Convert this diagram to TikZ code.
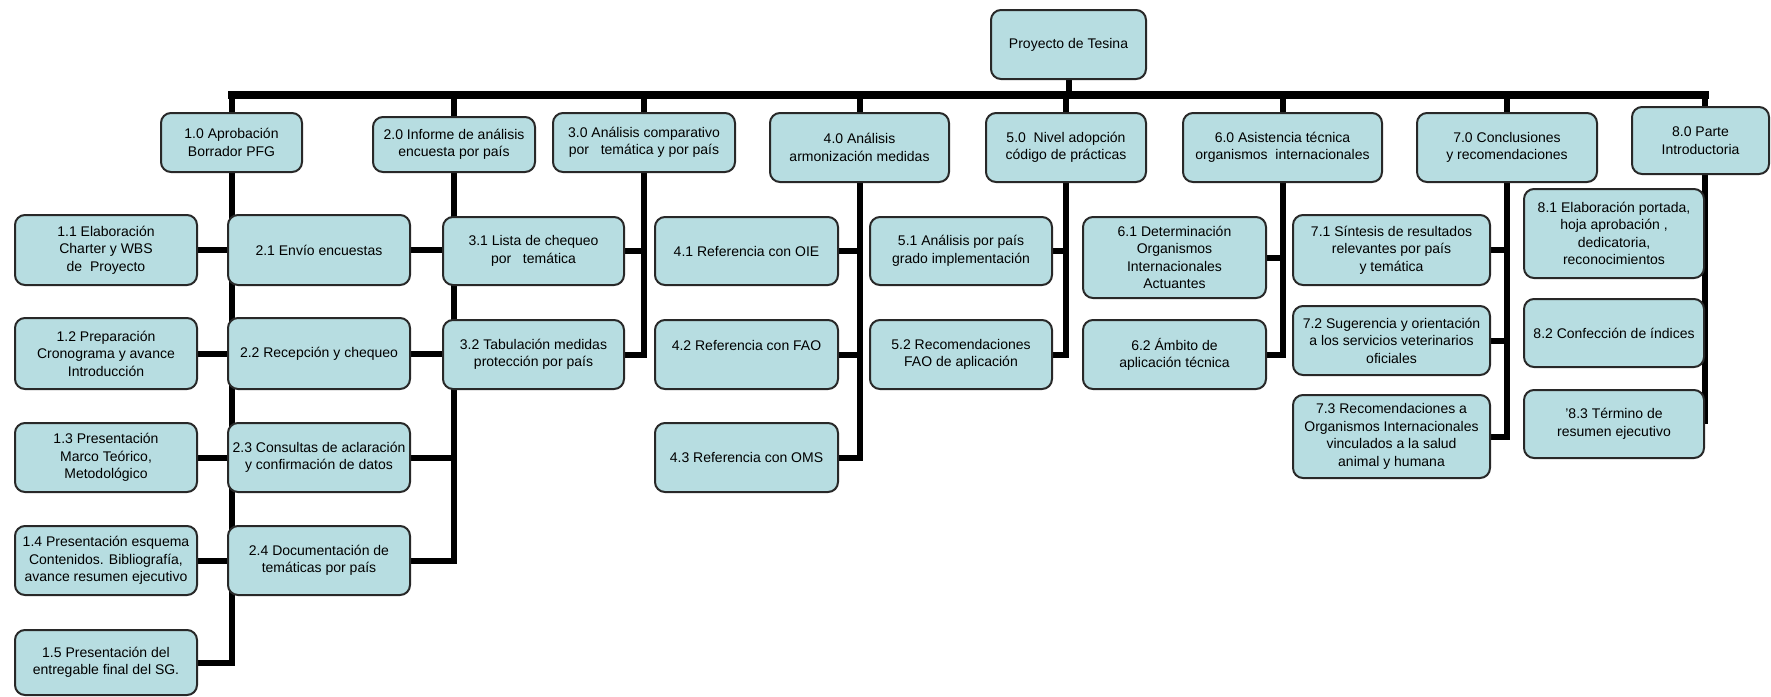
\documentclass[tikz,border=0pt]{standalone}
\usepackage{fontspec}
\setmainfont{Liberation Sans}
\definecolor{boxfill}{RGB}{183,221,225}
\definecolor{boxline}{RGB}{40,40,40}
\pgfdeclarelayer{bg}
\pgfdeclarelayer{paper}
\pgfsetlayers{paper,bg,main}
\begin{document}
\begin{tikzpicture}[x=1pt,y=-1pt,
  wbs/.style={draw=boxline, line width=2pt, fill=boxfill, rounded corners=10pt,
    align=center, inner sep=1pt, text=black,
    font=\fontsize{14}{17.5}\selectfont},
  conn/.style={line width=6pt, draw=black},
  busline/.style={line width=8pt, draw=black, line cap=rect}]
\begin{pgfonlayer}{paper}
\useasboundingbox[fill=white] (0,0) rectangle (1771,696);
\end{pgfonlayer}

% root
\node[wbs, minimum width=155pt, minimum height=69pt] (root) at (1068.5,44.5) {Proyecto de Tesina};

% level 1
\node[wbs, minimum width=141pt, minimum height=59pt] (n10) at (231.5,142.5) {1.0 Aprobación\\Borrador PFG};
\node[wbs, minimum width=162pt, minimum height=55pt] (n20) at (454,144.5) {2.0 Informe de análisis\\encuesta por país};
\node[wbs, minimum width=182pt, minimum height=59pt] (n30) at (644,142.5) {3.0 Análisis comparativo\\por\ \ \ temática y por país};
\node[wbs, minimum width=179pt, minimum height=69pt] (n40) at (859.5,147.5) {4.0 Análisis\\armonización medidas};
\node[wbs, minimum width=160pt, minimum height=69pt] (n50) at (1066,147.5) {5.0\ \ Nivel adopción\\código de prácticas};
\node[wbs, minimum width=199pt, minimum height=69pt] (n60) at (1282.5,147.5) {6.0 Asistencia técnica\\organismos\ \ internacionales};
\node[wbs, minimum width=180pt, minimum height=69pt] (n70) at (1507,147.5) {7.0 Conclusiones\\y recomendaciones};
\node[wbs, minimum width=137pt, minimum height=67pt] (n80) at (1700.5,140.5) {8.0 Parte\\Introductoria};

% branch 1
\node[wbs, minimum width=182pt, minimum height=70pt] (n11) at (106,250) {1.1 Elaboración\\Charter y WBS\\de\ \ Proyecto};
\node[wbs, minimum width=182pt, minimum height=71pt] (n12) at (106,353.5) {1.2 Preparación\\Cronograma y avance\\Introducción};
\node[wbs, minimum width=182pt, minimum height=69pt] (n13) at (106,457.5) {1.3 Presentación\\Marco Teórico,\\Metodológico};
\node[wbs, minimum width=182pt, minimum height=69pt] (n14) at (106,560.5) {1.4 Presentación esquema\\Contenidos. Bibliografía,\\avance resumen ejecutivo};
\node[wbs, minimum width=182pt, minimum height=65pt] (n15) at (106,662.5) {1.5 Presentación del\\entregable final del SG.};

% branch 2
\node[wbs, minimum width=182pt, minimum height=70pt] (n21) at (319,250) {2.1 Envío encuestas};
\node[wbs, minimum width=182pt, minimum height=71pt] (n22) at (319,353.5) {2.2 Recepción y chequeo};
\node[wbs, minimum width=182pt, minimum height=69pt] (n23) at (319,457.5) {2.3 Consultas de aclaración\\y confirmación de datos};
\node[wbs, minimum width=182pt, minimum height=69pt] (n24) at (319,560.5) {2.4 Documentación de\\temáticas por país};

% branch 3
\node[wbs, minimum width=181pt, minimum height=68pt] (n31) at (533.5,251) {3.1 Lista de chequeo\\por\ \ \ temática};
\node[wbs, minimum width=181pt, minimum height=69pt] (n32) at (533.5,354.5) {3.2 Tabulación medidas\\protección por país};

% branch 4
\node[wbs, minimum width=183pt, minimum height=68pt] (n41) at (746.5,251) {4.1 Referencia con OIE};
\node[wbs, minimum width=183pt, minimum height=69pt] (n42) at (746.5,354.5) {4.2 Referencia con FAO\\~};
\node[wbs, minimum width=183pt, minimum height=69pt] (n43) at (746.5,457.5) {4.3 Referencia con OMS};

% branch 5
\node[wbs, minimum width=182pt, minimum height=68pt] (n51) at (961,251) {5.1 Análisis por país\\grado implementación};
\node[wbs, minimum width=182pt, minimum height=69pt] (n52) at (961,354.5) {5.2 Recomendaciones\\FAO de aplicación};

% branch 6
\node[wbs, minimum width=183pt, minimum height=81pt] (n61) at (1174.5,257.5) {6.1 Determinación\\Organismos\\Internacionales\\Actuantes};
\node[wbs, minimum width=183pt, minimum height=69pt] (n62) at (1174.5,354.5) {6.2 Ámbito de\\aplicación técnica};

% branch 7
\node[wbs, minimum width=197pt, minimum height=70pt] (n71) at (1391.5,250) {7.1 Síntesis de resultados\\relevantes por país\\y temática};
\node[wbs, minimum width=197pt, minimum height=69pt] (n72) at (1391.5,340.5) {7.2 Sugerencia y orientación\\a los servicios veterinarios\\oficiales};
\node[wbs, minimum width=197pt, minimum height=83pt] (n73) at (1391.5,436.5) {7.3 Recomendaciones a\\Organismos Internacionales\\vinculados a la salud\\animal y humana};

% branch 8
\node[wbs, minimum width=180pt, minimum height=89pt] (n81) at (1614,233.5) {8.1 Elaboración portada,\\hoja aprobación ,\\dedicatoria,\\reconocimientos};
\node[wbs, minimum width=180pt, minimum height=68pt] (n82) at (1614,333) {8.2 Confección de índices};
\node[wbs, minimum width=180pt, minimum height=68pt] (n83) at (1614,424) {'8.3 Término de\\resumen ejecutivo};

\coordinate (busL) at (232,95);
\coordinate (busR) at (1705,95);

\begin{pgfonlayer}{bg}
  % bus and level-1 drops
  \draw[busline] (busL) -- (busR);
  \draw[conn] (root.south) -- (root.south |- busL);
  \draw[conn] (busL) -- (busL |- n10.north);
  \draw[conn] (n20.north |- busL) -- (n20.north);
  \draw[conn] (n30.north |- busL) -- (n30.north);
  \draw[conn] (n40.north |- busL) -- (n40.north);
  \draw[conn] (n50.north |- busL) -- (n50.north);
  \draw[conn] (n60.north |- busL) -- (n60.north);
  \draw[conn] (n70.north |- busL) -- (n70.north);
  \draw[conn] (busR) -- (busR |- n80.north);
  % branch 1 (children at left of spine)
  \draw[conn] (n10.south -| busL) |- (n15.east);
  \foreach \c in {n11,n12,n13,n14} \draw[conn] (\c.east) -- (\c.east -| busL);
  % branch 2
  \draw[conn] (n20.south) |- (n24.east);
  \foreach \c in {n21,n22,n23} \draw[conn] (\c.east) -- (\c.east -| n20.south);
  % branch 3
  \draw[conn] (n30.south) |- (n32.east);
  \draw[conn] (n31.east) -- (n31.east -| n30.south);
  % branch 4
  \draw[conn] (n40.south) |- (n43.east);
  \foreach \c in {n41,n42} \draw[conn] (\c.east) -- (\c.east -| n40.south);
  % branch 5
  \draw[conn] (n50.south) |- (n52.east);
  \draw[conn] (n51.east) -- (n51.east -| n50.south);
  % branch 6
  \draw[conn] (n60.south) |- (n62.east);
  \draw[conn] (n61.east) -- (n61.east -| n60.south);
  % branch 7
  \draw[conn] (n70.south) |- (n73.east);
  \foreach \c in {n71,n72} \draw[conn] (\c.east) -- (\c.east -| n70.south);
  % branch 8
  \draw[conn] (n80.south -| busR) -- (busR |- n83.east);
  \foreach \c in {n81,n82,n83} \draw[conn] (\c.east) -- (\c.east -| busR);
\end{pgfonlayer}
\end{tikzpicture}
\end{document}
